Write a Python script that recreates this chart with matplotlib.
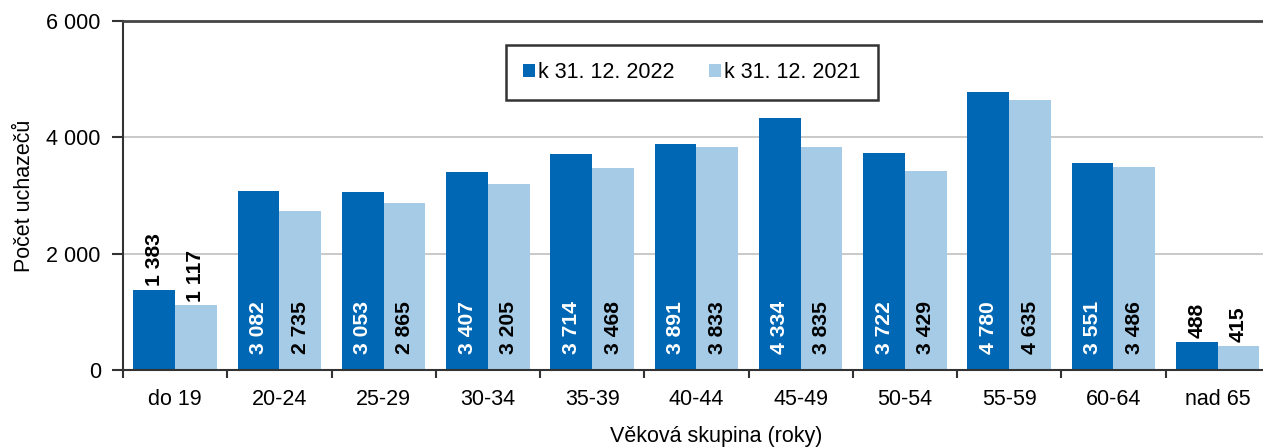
import numpy as np
import matplotlib
matplotlib.use("Agg")
import matplotlib.pyplot as plt

plt.rcParams['font.family'] = ['Liberation Sans', 'DejaVu Sans']

# Data
skupiny = ["do 19", "20-24", "25-29", "30-34", "35-39", "40-44",
           "45-49", "50-54", "55-59", "60-64", "nad 65"]
rok_2022 = [1383, 3082, 3053, 3407, 3714, 3891, 4334, 3722, 4780, 3551, 488]
rok_2021 = [1117, 2735, 2865, 3205, 3468, 3833, 3835, 3429, 4635, 3486, 415]
legenda = ["k 31. 12. 2022", "k 31. 12. 2021"]

c_dark = "#0067b4"
c_light = "#a6cbe7"
fs = 15.5
fs_lab = 15.2


def fmt(v):
    return f"{v:,}".replace(",", " ")


fig = plt.figure(figsize=(12.63, 4.47), dpi=100)
ax = fig.add_axes([0.0974, 0.1723, 0.908, 0.7808])

x = np.arange(len(skupiny))
w = 0.4
ax.bar(x - w / 2, rok_2022, w, color=c_dark, label=legenda[0], zorder=2)
ax.bar(x + w / 2, rok_2021, w, color=c_light, label=legenda[1], zorder=2)

# popisky hodnot
for xi, v in zip(x - w / 2, rok_2022):
    if v > 2000:
        ax.text(xi, 280, fmt(v), rotation=90, ha='center', va='bottom',
                color='white', fontsize=fs_lab, fontweight='semibold', zorder=3)
    else:
        ax.text(xi, v + 60, fmt(v), rotation=90, ha='center', va='bottom',
                color='black', fontsize=fs_lab, fontweight='semibold', zorder=3)
for xi, v in zip(x + w / 2, rok_2021):
    if v > 2000:
        ax.text(xi, 280, fmt(v), rotation=90, ha='center', va='bottom',
                color='black', fontsize=fs_lab, fontweight='semibold', zorder=3)
    else:
        ax.text(xi, v + 60, fmt(v), rotation=90, ha='center', va='bottom',
                color='black', fontsize=fs_lab, fontweight='semibold', zorder=3)

ax.set_xlim(-0.5, len(skupiny) - 0.5)
ax.set_ylim(0, 6000)
ax.set_yticks([0, 2000, 4000, 6000])
ax.set_yticklabels([fmt(v) for v in [0, 2000, 4000, 6000]], fontsize=fs)
ax.yaxis.grid(True, color='#c0c0c0', linewidth=1.2, zorder=0)
ax.set_axisbelow(True)

ax.set_xticks(x)
ax.set_xticklabels(skupiny, fontsize=fs)
ax.tick_params(axis='x', which='major', length=0, pad=14)
ax.set_xticks(np.arange(len(skupiny) + 1) - 0.5, minor=True)
ax.tick_params(axis='x', which='minor', length=6, width=1.5, color='#333333')
ax.tick_params(axis='y', length=8, width=1.5, color='#333333', pad=8)

ax.spines['right'].set_visible(False)
ax.spines['top'].set_color('#444444')
ax.spines['top'].set_linewidth(2)
ax.spines['left'].set_color('#333333')
ax.spines['left'].set_linewidth(1.5)
ax.spines['bottom'].set_color('#333333')
ax.spines['bottom'].set_linewidth(1.5)

ax.set_ylabel("Počet uchazečů", fontsize=fs)
ax.yaxis.set_label_coords(-88 / 1147, 0.5)
ax.set_xlabel("Věková skupina (roky)", fontsize=fs)
ax.xaxis.set_label_coords((716 - 123) / 1147, -0.16)

leg = ax.legend(loc='center', bbox_to_anchor=(0.548, 0.838),
                bbox_transform=fig.transFigure, ncol=2, fontsize=fs,
                frameon=True, fancybox=False, handlelength=0.55,
                handleheight=0.55, handletextpad=0.15, columnspacing=1.6,
                borderpad=0.8, borderaxespad=0)
leg.get_frame().set_edgecolor('black')
leg.get_frame().set_linewidth(1.8)

fig.savefig("out.png", dpi=100)
